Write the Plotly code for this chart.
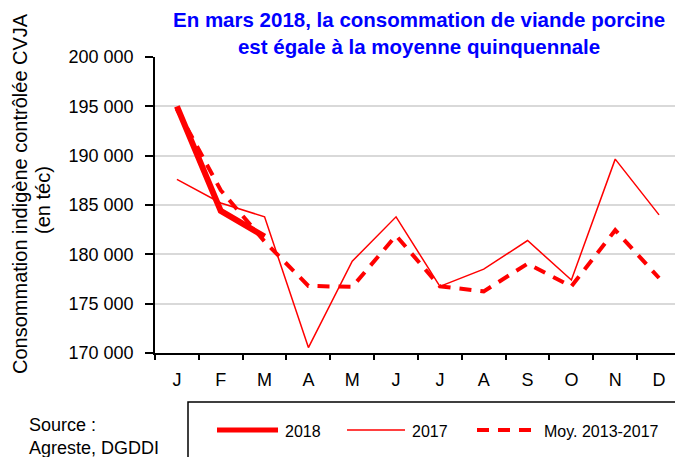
import plotly.graph_objects as go

# ---- data ----
months = ["janv", "févr", "mars", "avr", "mai", "juin", "juil", "août", "sept", "oct", "nov", "déc"]
month_labels = ["J", "F", "M", "A", "M", "J", "J", "A", "S", "O", "N", "D"]
v2018 = [195000, 184400, 181800]
v2017 = [187600, 185200, 183800, 170550, 179300, 183800, 176750, 178500, 181400, 177400, 189650, 184000]
v_moy = [194700, 186500, 181300, 176800, 176700, 181900, 176750, 176250, 179050, 176750, 182450, 177600]
y_ticks = [170000, 175000, 180000, 185000, 190000, 195000, 200000]
series_names = ["2018", "2017", "Moy. 2013-2017"]

W, H = 675, 457
L, R, T, B = 155, 0, 57, 104
pw, ph = W - L - R, H - T - B


def px_x(p):
    return (p - L) / pw


def px_y(p):
    return (H - B - p) / ph


RED = "#FF0000"
FONT = "Liberation Sans, Arial, sans-serif"
styles = [dict(color=RED, width=6), dict(color=RED, width=1.5), dict(color=RED, width=4, dash="12px,9px")]

fig = go.Figure()
fig.add_trace(go.Scatter(x=months, y=v_moy, name=series_names[2], mode="lines", line=styles[2]))
fig.add_trace(go.Scatter(x=months, y=v2017, name=series_names[1], mode="lines", line=styles[1]))
fig.add_trace(go.Scatter(x=months[:len(v2018)], y=v2018, name=series_names[0], mode="lines", line=styles[0]))

fig.update_xaxes(
    type="category", categoryorder="array", categoryarray=months,
    tickmode="array", tickvals=months, ticktext=month_labels,
    range=[-0.5, -0.5 + pw / 43.83], tickson="boundaries",
    ticks="outside", ticklen=5, tickwidth=1.5, tickcolor="black",
    showline=True, linecolor="black", linewidth=1.5, showgrid=False,
    tickfont=dict(size=18, color="black", family=FONT), ticklabelstandoff=10,
    zeroline=False,
)
fig.update_yaxes(
    range=[170000, 200000], tickvals=y_ticks, tickformat=",d",
    ticks="outside", ticklen=8, tickwidth=1.5, tickcolor="black",
    showline=True, linecolor="black", linewidth=1.5,
    showgrid=True, gridcolor="#D9D9D9", gridwidth=1.5,
    tickfont=dict(size=18, color="black", family=FONT), ticklabelstandoff=8,
    zeroline=False,
)

fig.add_annotation(
    text="<b>En mars 2018, la consommation de viande porcine<br>est égale à la moyenne quinquennale</b>",
    xref="paper", yref="paper", x=px_x(419), y=px_y(6), xanchor="center", yanchor="top",
    showarrow=False, font=dict(size=20.5, color="#0000FF", family=FONT), align="center",
)
fig.add_annotation(
    text="Consommation indigène contrôlée CVJA",
    xref="paper", yref="paper", x=px_x(20), y=px_y(194), xanchor="center", yanchor="middle",
    textangle=-90, showarrow=False, font=dict(size=20, color="black", family=FONT),
)
fig.add_annotation(
    text="(en téc)",
    xref="paper", yref="paper", x=px_x(43), y=px_y(200), xanchor="center", yanchor="middle",
    textangle=-90, showarrow=False, font=dict(size=20, color="black", family=FONT),
)
fig.add_annotation(
    text="Source :<br>Agreste, DGDDI",
    xref="paper", yref="paper", x=px_x(27), y=px_y(436), xanchor="left", yanchor="middle",
    showarrow=False, font=dict(size=18, color="black", family=FONT), align="left",
)

# legend frame (extends past the figure edge as in the reference)
fig.add_shape(type="rect", xref="paper", yref="paper",
              x0=px_x(188), x1=px_x(720), y0=px_y(402), y1=px_y(500),
              line=dict(color="black", width=1.5), fillcolor="rgba(0,0,0,0)")
# legend keys
key_x = [(217, 278), (347, 405), (477, 537)]
for (x0, x1), nm, st in zip(key_x, series_names, styles):
    fig.add_shape(type="line", xref="paper", yref="paper",
                  x0=px_x(x0), x1=px_x(x1), y0=px_y(430), y1=px_y(430),
                  line=dict(color=st["color"], width=min(st["width"], 5), dash=st.get("dash", "solid")))
    fig.add_annotation(text=nm, xref="paper", yref="paper", x=px_x(x1 + 5), y=px_y(431),
                       xanchor="left", yanchor="middle", showarrow=False,
                       font=dict(size=16, color="black", family=FONT))

fig.update_layout(
    width=W, height=H, margin=dict(l=L, r=R, t=T, b=B),
    paper_bgcolor="white", plot_bgcolor="white",
    separators=", ",
    showlegend=False,
)

fig.write_html("out.html", config={"displayModeBar": False},
               post_script="document.body.style.margin='0';")
